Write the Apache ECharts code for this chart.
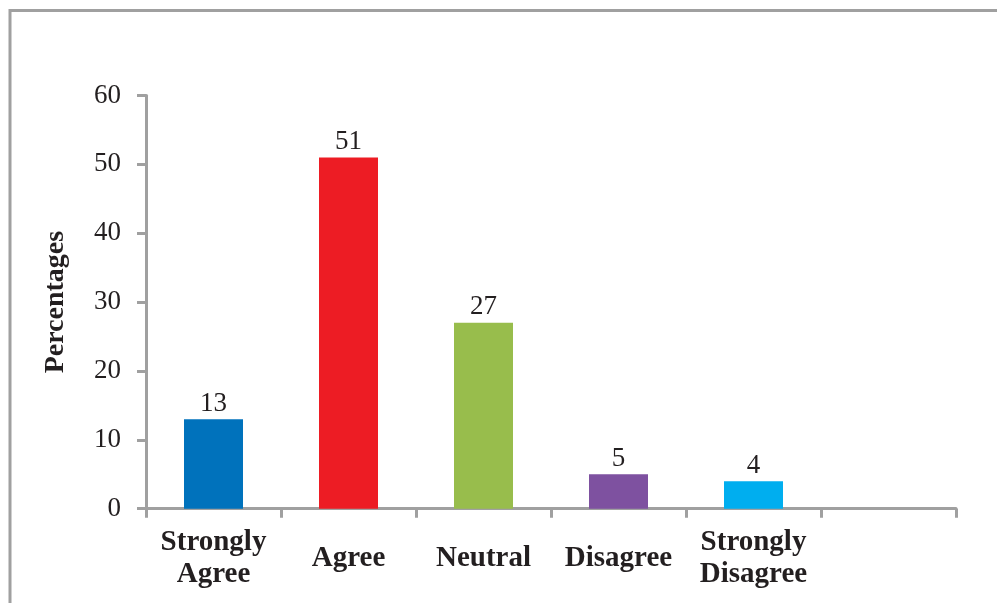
<!DOCTYPE html>
<html>
<head>
<meta charset="utf-8">
<title>Percentages by response</title>
<script src="https://cdn.jsdelivr.net/npm/echarts@6/dist/echarts.min.js"></script>
<style>
  html, body { margin: 0; padding: 0; background: #ffffff; }
  #chart { width: 997px; height: 603px; }
</style>
</head>
<body>
<div id="chart"></div>
<script>
// Response categories (the sixth slot is left empty on the axis)
var categories = ['Strongly\nAgree', 'Agree', 'Neutral', 'Disagree', 'Strongly\nDisagree', ''];
// Percentage of respondents per category
var percentages = [13, 51, 27, 5, 4, null];
// One fill colour per bar
var barColors = ['#0072bc', '#ed1c24', '#98bd4c', '#7e51a0', '#00aeef', '#ffffff'];
// Value axis settings
var yMin = 0, yMax = 60, yStep = 10;

var serif = '"Liberation Serif", "Times New Roman", serif';
var ink = '#231f20';
var axisGray = '#a0a0a0';

var chart = echarts.init(document.getElementById('chart'), null, { renderer: 'canvas' });

var barData = percentages.map(function (v, i) {
  return { value: v, itemStyle: { color: barColors[i] } };
});

chart.setOption({
  animation: false,
  backgroundColor: '#ffffff',
  graphic: [{
    type: 'rect',
    shape: { x: 10, y: 10.5, width: 1200, height: 800 },
    style: { fill: 'none', stroke: axisGray, lineWidth: 3 },
    silent: true
  }],
  grid: { left: 146, top: 95.5, width: 810, height: 413.2, containLabel: false },
  xAxis: {
    type: 'category',
    data: categories,
    axisLine: { show: true, lineStyle: { color: axisGray, width: 3 } },
    axisTick: { show: true, alignWithLabel: false, length: 9, lineStyle: { color: axisGray, width: 3 } },
    axisLabel: {
      interval: 0,
      color: ink,
      fontFamily: serif,
      fontWeight: 'bold',
      fontSize: 29,
      lineHeight: 32,
      verticalAlign: 'middle',
      margin: 50
    },
    splitLine: { show: false }
  },
  yAxis: {
    type: 'value',
    min: yMin,
    max: yMax,
    interval: yStep,
    name: 'Percentages',
    nameLocation: 'middle',
    nameRotate: 90,
    nameGap: 76,
    nameTextStyle: { color: ink, fontFamily: serif, fontWeight: 'bold', fontSize: 28 },
    axisLine: { show: true, lineStyle: { color: axisGray, width: 3 } },
    axisTick: { show: true, length: 9, lineStyle: { color: axisGray, width: 3 } },
    axisLabel: { color: ink, fontFamily: serif, fontSize: 27, margin: 25 },
    splitLine: { show: false }
  },
  series: [{
    type: 'bar',
    data: barData,
    barWidth: 59,
    label: {
      show: true,
      position: 'top',
      distance: 2,
      color: ink,
      fontFamily: serif,
      fontSize: 27
    }
  }]
});
</script>
</body>
</html>
